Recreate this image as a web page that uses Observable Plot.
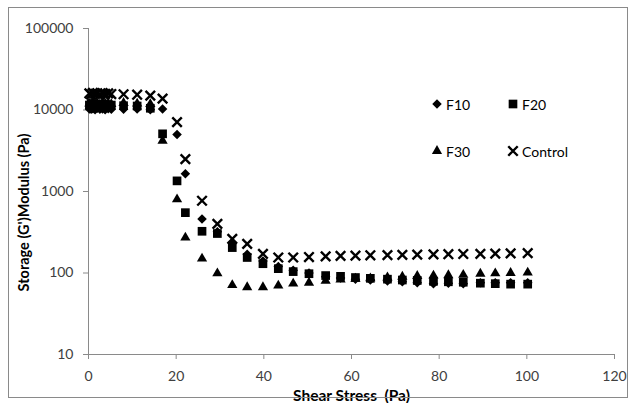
<!DOCTYPE html>
<html>
<head>
<meta charset="utf-8">
<script src="https://cdn.jsdelivr.net/npm/d3@7"></script>
<script src="https://cdn.jsdelivr.net/npm/@observablehq/plot@0.6"></script>
<style>
  html, body { margin: 0; padding: 0; background: #fff; }
  #wrap { position: relative; width: 637px; height: 403px; overflow: hidden; }
  #frame { position: absolute; left: 8px; top: 7px; width: 620px; height: 391px; border: 1px solid #8a8a8a; box-sizing: border-box; pointer-events: none; }
  #chart svg [aria-label="x-axis tick label"], #chart svg [aria-label="y-axis tick label"] { fill: #404040; }
  .leg { position: absolute; display: flex; align-items: center; font: 14px Lato, sans-serif; color: #000; }
  .leg svg { margin-right: 3px; }
</style>
</head>
<body>
<div id="wrap">
  <div id="chart"></div>
  <div id="legend"></div>
  <div id="frame"></div>
</div>
<script>
// Shear stress (Pa)
const shear = [0.2, 0.6, 1.0, 1.5, 2.0, 2.6, 3.2, 3.8, 4.5, 5.2,
  8.0, 11.1, 14.1, 16.9, 20.2, 22.1, 25.9, 29.4, 32.8, 36.2, 39.8, 43.3, 46.7, 50.3,
  54.1, 57.5, 60.9, 64.3, 68.2, 71.6, 75.0, 78.7, 82.1, 85.5, 89.4, 92.8, 96.3, 100.2];

// Storage modulus G' (Pa)
const f10 = [10300, 10200, 10400, 10100, 10500, 10200, 10300, 10100, 10400, 10200,
  10200, 10300, 10100, 10300, 5000, 1650, 460, 320, 235, 170, 140, 120, 108, 100,
  90, 87, 84, 82, 80, 78, 76, 74, 75, 74, 76, 76, 76, 76];
const f20 = [11500, 12000, 11200, 11800, 11500, 11000, 11600, 11900, 11300, 11500,
  11300, 11200, 10500, 5100, 1350, 550, 325, 305, 205, 155, 130, 113, 104, 98,
  93, 91, 88, 86, 84, 82, 81, 79, 78, 77, 75, 74, 73, 73];
const f30 = [12000, 11600, 12300, 11800, 12100, 11700, 12200, 11900, 12000, 11800,
  12200, 12000, 11800, 4200, 800, 272, 150, 99, 71, 67, 67, 70, 74, 76,
  80, 83, 85, 86, 88, 90, 92, 93, 94, 95, 98, 99, 100, 101];
const control = [16000, 15500, 16200, 15800, 16000, 15600, 16100, 15800, 16000, 15700,
  15600, 15400, 15000, 13800, 7100, 2500, 770, 400, 262, 228, 172, 155, 155, 157,
  160, 162, 163, 165, 166, 167, 168, 169, 170, 171, 172, 173, 174, 175];

const seriesNames = ["F10", "F20", "F30", "Control"];
const xTicks = [0, 20, 40, 60, 80, 100, 120];
const yTicks = [10, 100, 1000, 10000, 100000];

const rows = (vals) => shear.map((x, i) => ({x, y: vals[i]}));

const chart = Plot.plot({
  width: 637,
  height: 403,
  marginLeft: 88,
  marginRight: 23,
  marginTop: 28,
  marginBottom: 49,
  style: {fontFamily: "Lato, sans-serif", background: "#fff", overflow: "visible"},
  x: {domain: [0, 120]},
  y: {type: "log", domain: [10, 100000]},
  marks: [
    Plot.ruleX([0], {stroke: "#8a8a8a", strokeWidth: 1}),
    Plot.ruleY([10], {stroke: "#8a8a8a", strokeWidth: 1}),
    Plot.axisX({ticks: xTicks, tickSize: 5, tickPadding: 12, stroke: "#8a8a8a", fontSize: 14,
      label: "Shear Stress\u00a0 (Pa)", labelAnchor: "center", labelOffset: 46, labelArrow: "none"}),
    Plot.axisY({ticks: yTicks, tickSize: 5, tickPadding: 10, stroke: "#8a8a8a", fontSize: 14,
      tickFormat: d => String(d),
      label: "Storage (G')Modulus (Pa)", labelAnchor: "center", labelOffset: 71, labelArrow: "none"}),
    Plot.dot(rows(f10), {x: "x", y: "y", symbol: d3.symbolDiamond2, r: 4.3, fill: "#000", stroke: "none"}),
    Plot.dot(rows(f20), {x: "x", y: "y", symbol: "square", r: 4.9, fill: "#000", stroke: "none"}),
    Plot.dot(rows(f30), {x: "x", y: "y", symbol: "triangle", r: 3.8, fill: "#000", stroke: "none"}),
    Plot.dot(rows(control), {x: "x", y: "y", symbol: "times", r: 4.4, stroke: "#000", strokeWidth: 2.4, fill: "none"})
  ]
});
document.getElementById("chart").appendChild(chart);

// Bold axis titles
chart.querySelectorAll('[aria-label="x-axis label"] text').forEach(t => {
  t.setAttribute("font-weight", "bold");
  t.setAttribute("font-size", "15.5");
  t.setAttribute("fill", "#000");
});
chart.querySelectorAll('[aria-label="y-axis label"] text').forEach(t => {
  t.setAttribute("font-weight", "bold");
  t.setAttribute("font-size", "14.5");
  t.setAttribute("fill", "#000");
});
// The y title sits a little below the plot's vertical centre in the reference
const yLab = chart.querySelector('[aria-label="y-axis label"]');
if (yLab) yLab.setAttribute("transform", ((yLab.getAttribute("transform") || "") + " translate(1,21)").trim());

// Legend
const legendPos = [
  {name: seriesNames[0], left: 431, top: 95, sym: d3.symbolDiamond2, size: 58, fill: true},
  {name: seriesNames[1], left: 507, top: 95, sym: d3.symbolSquare, size: 75, fill: true},
  {name: seriesNames[2], left: 431, top: 142, sym: d3.symbolTriangle, size: 45, fill: true},
  {name: seriesNames[3], left: 507, top: 142, sym: d3.symbolTimes, size: 60, fill: false}
];
const legend = document.getElementById("legend");
legendPos.forEach(p => {
  const div = document.createElement("div");
  div.className = "leg";
  div.style.left = p.left + "px";
  div.style.top = p.top + "px";
  const path = d3.symbol(p.sym, p.size)();
  div.innerHTML = `<svg width="12" height="18" viewBox="-6 -9 12 18"><path d="${path}" ${p.fill ? 'fill="#000"' : 'fill="none" stroke="#000" stroke-width="2.4"'}/></svg><span>${p.name}</span>`;
  legend.appendChild(div);
});
</script>
</body>
</html>
